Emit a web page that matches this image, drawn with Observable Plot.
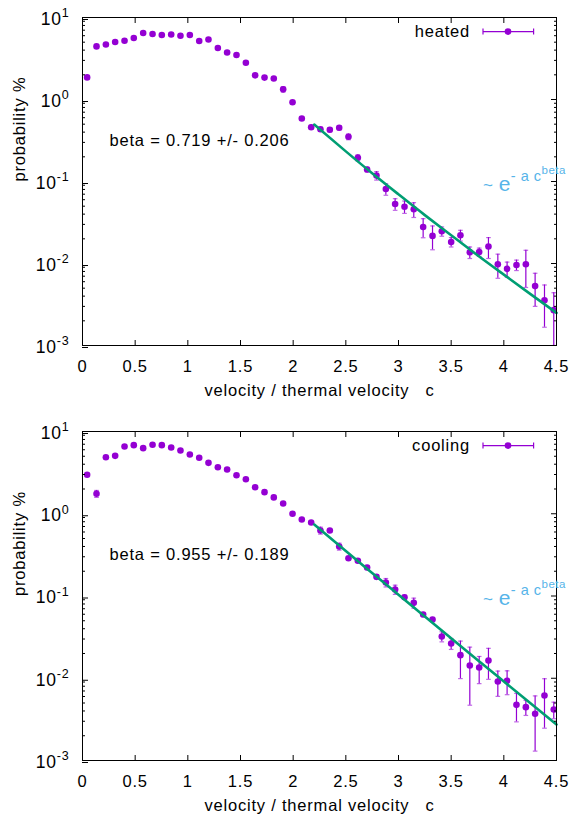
<!DOCTYPE html>
<html><head><meta charset="utf-8">
<script src="https://cdn.jsdelivr.net/npm/d3@7"></script>
<script src="https://cdn.jsdelivr.net/npm/@observablehq/plot@0.6"></script>
<style>
html,body{margin:0;padding:0;background:#fff;}
#chart svg{display:block;}
svg text{white-space:pre;}
</style></head><body><div id="chart"></div>
<script>
// bin centres, velocity / thermal velocity
const velocity = [0.044,0.133,0.222,0.310,0.399,0.487,0.576,0.665,0.753,0.842,0.930,1.019,1.108,1.196,1.285,1.373,1.462,1.551,1.639,1.728,1.816,1.905,1.994,2.082,2.171,2.259,2.348,2.437,2.525,2.614,2.702,2.791,2.880,2.968,3.057,3.145,3.234,3.323,3.411,3.500,3.588,3.677,3.766,3.854,3.943,4.031,4.120,4.209,4.297,4.386,4.474];

const heated = [1.86,4.44,4.69,5.02,5.21,5.62,6.46,6.28,6.11,6.21,5.99,6.11,5.16,5.40,4.24,3.75,3.49,2.81,1.97,1.85,1.80,1.33,0.925,0.586,0.459,0.434,0.427,0.452,0.351,0.195,0.140,0.118,0.0809,0.0531,0.0493,0.0458,0.0279,0.0217,0.0247,0.0183,0.0221,0.0137,0.0138,0.0161,0.0098,0.0086,0.0096,0.0098,0.0053,0.00357,0.0027];
const heatedErr = [0.05,0.1,0.1,0.1,0.1,0.1,0.12,0.12,0.12,0.12,0.12,0.12,0.1,0.1,0.09,0.08,0.08,0.07,0.06,0.06,0.06,0.1,0.04,0.03,0.025,0.025,0.025,0.026,0.028,0.017,0.0094,0.014,0.013,0.0086,0.0085,0.0094,0.0073,0.0070,0.0032,0.0024,0.0033,0.0022,0.0016,0.0046,0.0032,0.0018,0.0014,0.0047,0.0023,0.0019,0.0017];

const cooling = [2.98,1.75,4.87,5.06,6.57,6.82,6.27,6.89,6.82,6.39,5.87,5.25,4.79,4.16,3.68,3.45,2.94,2.63,2.10,1.83,1.58,1.33,1.0,0.851,0.783,0.626,0.626,0.400,0.288,0.268,0.222,0.171,0.146,0.120,0.0967,0.0826,0.0596,0.0518,0.0322,0.0264,0.0191,0.0143,0.0135,0.0164,0.00912,0.00931,0.00475,0.00445,0.0037,0.00617,0.00417];
const coolingErr = [0.05,0.17,0.1,0.1,0.12,0.12,0.12,0.12,0.12,0.12,0.1,0.1,0.09,0.08,0.07,0.07,0.06,0.05,0.04,0.04,0.03,0.03,0.025,0.02,0.02,0.061,0.015,0.039,0.011,0.008,0.0129,0.0099,0.0172,0.0154,0.0055,0.0116,0.0034,0.003,0.0045,0.0040,0.0092,0.0096,0.0049,0.0067,0.0031,0.0030,0.0018,0.00092,0.0024,0.0037,0.00095];

// fitted curves ~ e^(-a c^beta)
const fitVelocity = [2.2,2.5,2.75,3.0,3.25,3.5,3.75,4.0,4.25,4.5];
const heatedFit = [0.495,0.233,0.126,0.0697,0.0389,0.0221,0.0126,0.00731,0.00426,0.0025];
const coolingFit = [0.74,0.352,0.1905,0.1035,0.0562,0.0306,0.01667,0.00914,0.00501,0.00274];

const seriesNames = ["heated","cooling"];
const betaLabels = ["beta = 0.719 +/- 0.206","beta = 0.955 +/- 0.189"];
const xTicks = [0,0.5,1,1.5,2,2.5,3,3.5,4,4.5];
const yMajor = [1e-3,1e-2,1e-1,1,10];
const yMinor = [];
[1e-3,1e-2,1e-1,1].forEach(b => { for (let k = 2; k <= 9; k++) yMinor.push(+(b*k).toPrecision(3)); });

const purple = "#9400d3", green = "#009e73", blue = "#56b4e9";
const layout = [
  {height: 410, marginTop: 17, marginBottom: 65},
  {height: 409, marginTop: 21, marginBottom: 59}
];
const ML = 82, MR = 16, W = 572;
const ns = "http://www.w3.org/2000/svg";

const seriesVals = [heated, cooling];
const seriesErrs = [heatedErr, coolingErr];
const seriesFits = [heatedFit, coolingFit];

seriesNames.forEach((name, s) => {
  const L = layout[s];
  const data = velocity.map((c, i) => ({c, p: seriesVals[s][i], e: seriesErrs[s][i]}));
  const fit = fitVelocity.map((c, i) => ({c, p: seriesFits[s][i]}));
  const cap = 0.022;
  const svg = Plot.plot({
    width: W, height: L.height,
    marginLeft: ML, marginRight: MR, marginTop: L.marginTop, marginBottom: L.marginBottom,
    style: {fontFamily: "'Liberation Sans', Arial, sans-serif", fontSize: "16.5px", letterSpacing: "0.8px", background: "#fff", color: "#000", overflow: "visible"},
    x: {domain: [0, 4.5]},
    y: {type: "log", domain: [1e-3, 10]},
    marks: [
      Plot.ruleX(data, {x: "c", y1: d => Math.max(d.p - d.e, 1e-4), y2: d => d.p + d.e, stroke: purple, strokeWidth: 1.2, clip: true}),
      Plot.link(data, {x1: d => d.c - cap, x2: d => d.c + cap, y1: d => d.p + d.e, y2: d => d.p + d.e, stroke: purple, strokeOpacity: 0.6, strokeWidth: 1.2, clip: true}),
      Plot.link(data.filter(d => d.p - d.e > 1e-3), {x1: d => d.c - cap, x2: d => d.c + cap, y1: d => d.p - d.e, y2: d => d.p - d.e, stroke: purple, strokeOpacity: 0.6, strokeWidth: 1.2, clip: true}),
      Plot.dot(data, {x: "c", y: "p", r: 3.3, fill: purple, clip: true}),
      Plot.line(fit, {x: "c", y: "p", stroke: green, strokeWidth: 2.6, curve: "natural"}),
      Plot.frame({stroke: "#000"}),
      Plot.axisX({anchor: "bottom", ticks: xTicks, tickSize: -5, tickPadding: 20, tickFormat: d => String(d), label: null}),
      Plot.axisX({anchor: "top", ticks: xTicks, tickSize: -5, tickFormat: () => "", label: null}),
      Plot.axisY({anchor: "left", ticks: yMajor, tickSize: -6, tickPadding: 19, dy: 2, tickFormat: d => String(Math.round(Math.log10(d))), label: null}),
      Plot.axisY({anchor: "left", ticks: yMinor, tickSize: -3, tickFormat: () => "", label: null}),
      Plot.axisY({anchor: "right", ticks: yMajor, tickSize: -6, tickFormat: () => "", label: null}),
      Plot.axisY({anchor: "right", ticks: yMinor, tickSize: -3, tickFormat: () => "", label: null}),
      Plot.text([betaLabels[s]], {frameAnchor: "top-left", dx: 27, dy: 128.3, textAnchor: "start", lineAnchor: "bottom", fill: "#000"}),
      Plot.text(["velocity / thermal velocity   c"], {frameAnchor: "bottom", dy: 50, lineAnchor: "bottom", fill: "#000"}),
      Plot.text(["probability %"], {frameAnchor: "left", dx: -58, rotate: -90, lineAnchor: "bottom", fill: "#000"})
    ]
  });

  // superscript exponents on y tick labels
  svg.querySelectorAll('g[aria-label="y-axis tick label"] text').forEach(t => {
    const e = t.textContent;
    if (!e) return;
    t.textContent = "";
    const b = document.createElementNS(ns, "tspan"); b.setAttribute("font-size", "17.5"); b.textContent = "10"; t.appendChild(b);
    const sp = document.createElementNS(ns, "tspan"); sp.setAttribute("dy", "-7.5"); sp.setAttribute("font-size", "12.5"); sp.textContent = e; t.appendChild(sp);
  });

  const right = W - MR, top = L.marginTop;
  const root = d3.select(svg);
  // legend
  const ly = top + 14.6;
  const lg = root.append("g");
  lg.append("text").attr("x", right - 86).attr("y", ly).attr("dy", "0.35em").attr("text-anchor", "end").attr("fill", "#000").text(name);
  lg.append("line").attr("x1", right - 73).attr("x2", right - 22.4).attr("y1", ly).attr("y2", ly).attr("stroke", purple).attr("stroke-width", 1.2);
  [right - 73, right - 22.4].forEach(x => lg.append("line").attr("x1", x).attr("x2", x).attr("y1", ly - 3).attr("y2", ly + 3).attr("stroke", purple).attr("stroke-width", 1.2));
  lg.append("circle").attr("cx", right - 48).attr("cy", ly).attr("r", 3.3).attr("fill", purple);
  // fit formula label
  const ft = root.append("text").attr("x", right - 73).attr("y", top + 174).attr("text-anchor", "start").attr("fill", blue).attr("letter-spacing", "0.5px");
  ft.append("tspan").attr("font-size", 17).text("~ ");
  ft.append("tspan").attr("font-size", 21).text("e");
  ft.append("tspan").attr("font-size", 14.5).attr("dy", -9.7).text("- a c");
  ft.append("tspan").attr("font-size", 11.5).attr("dy", -7.7).text("beta");

  document.getElementById("chart").appendChild(svg);
});
</script></body></html>
